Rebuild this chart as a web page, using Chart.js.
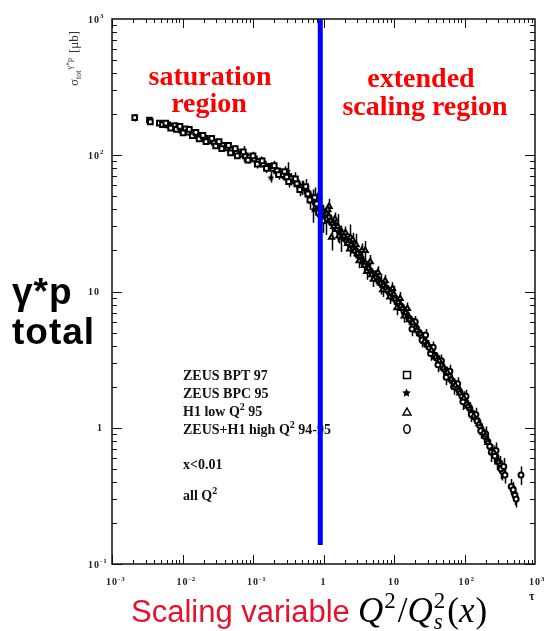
<!DOCTYPE html>
<html>
<head>
<meta charset="utf-8">
<script src="https://cdn.jsdelivr.net/npm/chart.js@4.4.1/dist/chart.umd.min.js"></script>
<style>
  html, body { margin: 0; padding: 0; background: #fff; }
  #wrap { width: 544px; height: 631px; }
</style>
</head>
<body>
<div id="wrap"><canvas id="chart" width="544" height="631"></canvas></div>
<script>
// values: [tau, sigma_tot (mub), error]
var zeusBpt97 = [
  [0.0021, 189, 12], [0.0034, 181, 10], [0.0035, 176, 8], [0.0047, 172, 4], [0.0052, 168, 4],
  [0.0062, 167, 4], [0.0069, 162, 4], [0.0078, 165, 5], [0.0088, 158, 4], [0.0098, 153, 4],
  [0.011, 156, 5], [0.012, 148, 4], [0.014, 146, 4], [0.016, 140, 4], [0.018, 137, 4],
  [0.021, 133, 4], [0.024, 128, 4], [0.028, 125, 5], [0.032, 120, 4], [0.037, 118, 6],
  [0.043, 113, 4], [0.05, 110, 5], [0.058, 106, 4], [0.067, 102, 5], [0.078, 99, 4],
  [0.09, 97, 5], [0.105, 94, 6], [0.12, 90, 5], [0.14, 86, 5], [0.165, 83, 5],
  [0.19, 80, 6], [0.22, 77, 5], [0.26, 72, 5], [0.3, 69, 6], [0.35, 67, 7],
  [0.42, 62, 6], [0.5, 58, 7], [0.6, 52, 8], [0.7, 47, 9], [0.8, 44, 9],
  [0.85, 38, 9], [0.92, 41, 10], [0.97, 33, 6],
  [0.0058, 172, 6], [0.0068, 158, 5], [0.0082, 155, 5], [0.0092, 163, 6], [0.0102, 146, 5],
  [0.0125, 155, 6], [0.0138, 139, 5], [0.0155, 147, 6], [0.0172, 132, 5], [0.0195, 140, 6],
  [0.0215, 126, 5], [0.026, 133, 6], [0.0295, 117, 5], [0.033, 126, 6], [0.036, 112, 5],
  [0.045, 118, 6], [0.048, 104, 5], [0.056, 112, 6], [0.06, 99, 5], [0.073, 106, 6],
  [0.085, 92, 5], [0.1, 99, 7], [0.115, 86, 6], [0.135, 91, 6], [0.155, 80, 6],
  [0.2, 84, 7], [0.23, 72, 6], [0.28, 76, 7], [0.32, 64, 6], [0.4, 67, 8],
  [0.46, 56, 6], [0.56, 59, 8], [0.64, 47, 7], [0.75, 49, 9]
];
var zeusBpc95 = [
  [0.0054, 168, 5], [0.0064, 165, 4], [0.0073, 161, 4], [0.0083, 160, 4], [0.0094, 156, 4],
  [0.0105, 151, 4], [0.0118, 151, 5], [0.013, 146, 4], [0.0145, 143, 4], [0.0162, 141, 5],
  [0.018, 136, 4], [0.02, 134, 4], [0.0225, 130, 5], [0.025, 127, 4], [0.0275, 127, 5],
  [0.03, 122, 4], [0.034, 119, 5], [0.038, 115, 4], [0.041, 116, 6], [0.046, 111, 4],
  [0.052, 109, 5], [0.055, 105, 4], [0.062, 105, 5], [0.07, 101, 4], [0.075, 103, 14],
  [0.082, 96, 5], [0.095, 95, 5], [0.11, 91, 5], [0.125, 88, 5], [0.13, 92, 6],
  [0.15, 85, 5], [0.18, 69, 6], [0.18, 82, 6], [0.21, 76, 5], [0.24, 75, 6],
  [0.27, 71, 5], [0.31, 77, 12], [0.33, 67, 6], [0.38, 64, 6], [0.44, 60, 6],
  [0.51, 60, 5], [0.55, 55, 6], [0.65, 49, 6], [0.72, 40, 8], [0.85, 43, 5], [0.95, 37, 6]
];
var h1LowQ95 = [
  [0.32, 70, 3], [0.38, 66, 3], [0.45, 61, 3], [0.52, 58, 3], [0.6, 54, 3],
  [0.68, 49, 3], [0.78, 45, 3], [0.88, 42, 3], [0.98, 39, 2.5], [1.1, 37, 2.5],
  [1.25, 33, 2.5], [1.3, 25, 5], [1.4, 30, 2], [1.55, 28.5, 2], [1.75, 26, 2],
  [1.8, 25, 5.5], [1.95, 25.5, 2], [2.2, 22.5, 2], [2.45, 22, 1.8], [2.75, 19.8, 1.8],
  [2.9, 22, 4.5], [3.05, 19, 1.5], [3.4, 17, 1.5], [3.8, 15.5, 1.4], [3.9, 20, 3.5],
  [4.3, 14.8, 1.3], [4.8, 13.3, 1.2], [5.5, 12.6, 1.1], [6.3, 11.8, 1], [6.5, 11.5, 2],
  [7.0, 11.1, 1], [8.0, 10.2, 0.9], [9.0, 9.8, 0.8], [10, 9.5, 1.5], [10.3, 8.8, 0.7],
  [11.5, 8.3, 0.7], [13, 7.5, 0.6], [14.5, 7.0, 0.6], [16.5, 6.2, 0.5], [18.5, 5.9, 0.5],
  [21, 5.2, 0.5], [23.5, 4.9, 0.4], [27, 4.3, 0.4], [30, 4.05, 0.35], [34, 3.7, 0.3],
  [39, 3.3, 0.3], [44, 3.1, 0.3], [50, 2.75, 0.25], [57, 2.55, 0.25], [65, 2.28, 0.2],
  [74, 2.05, 0.2], [86, 1.8, 0.2], [98, 1.65, 0.2], [112, 1.44, 0.15], [135, 1.22, 0.12],
  [160, 1.07, 0.12], [185, 0.92, 0.1], [215, 0.78, 0.09], [260, 0.66, 0.08], [300, 0.56, 0.08],
  [1.1, 34, 8], [1.2, 42, 6], [1.6, 30, 7], [2.4, 25, 6],
  [1.15, 40, 4], [1.45, 34, 4], [1.65, 25.5, 3], [2.05, 27, 3], [2.35, 20.5, 2.5],
  [2.6, 24, 3], [3.2, 16.8, 2], [3.5, 20, 2.5], [4.1, 14, 1.8], [4.6, 16.5, 2],
  [5.1, 12.3, 1.5], [5.9, 13.8, 1.5], [6.9, 10.3, 1.2], [7.5, 12, 1.3], [8.7, 9.1, 1],
  [9.5, 10.5, 1.2], [11, 7.6, 0.9], [12.2, 8.9, 1], [14, 6.6, 0.7], [15.5, 7.5, 0.8]
];
var zeusH1HighQ = [
  [1.05, 38, 3], [1.12, 35.5, 2.5], [1.2, 35, 3], [1.3, 32, 2.5], [1.38, 31.5, 3],
  [1.5, 29.5, 2.5], [1.6, 29, 2], [1.7, 27, 2], [1.85, 26.5, 2.5], [2.0, 24.5, 2],
  [2.15, 23.5, 2], [2.3, 23.2, 2], [2.5, 21.5, 2], [2.7, 20.5, 2], [2.9, 19.8, 2],
  [3.1, 18.5, 1.5], [3.35, 17.8, 1.5], [3.6, 16.7, 1.5], [3.9, 16, 1.5], [4.2, 15.2, 1.3],
  [4.5, 14.3, 1.2], [4.9, 13.6, 1.2], [5.3, 13.2, 1.1], [5.7, 12.4, 1], [6.1, 12.0, 1],
  [6.6, 11.5, 1], [7.2, 10.9, 1], [7.8, 10.6, 0.9], [8.4, 10.0, 0.8], [9.1, 9.6, 0.8],
  [9.9, 9.1, 0.7], [10.8, 8.6, 0.7], [11.7, 8.1, 0.6], [12.7, 7.8, 0.6], [13.8, 7.2, 0.6],
  [15, 6.8, 0.5], [16.3, 6.4, 0.5], [17.6, 6.1, 0.5], [19.1, 5.6, 0.4], [20.8, 5.4, 0.4],
  [22.6, 4.95, 0.4], [24.5, 4.8, 0.4], [26.6, 4.4, 0.35], [28.9, 4.15, 0.35], [31.4, 3.9, 0.3],
  [34.1, 3.6, 0.3], [37, 3.4, 0.3], [40.2, 3.25, 0.3], [43.6, 3.0, 0.25], [47.4, 2.85, 0.25],
  [51.5, 2.7, 0.25], [55.9, 2.5, 0.2], [60.7, 2.4, 0.2], [66, 2.22, 0.2], [71.6, 2.12, 0.2],
  [77.8, 1.96, 0.18], [84.5, 1.86, 0.18], [91.8, 1.72, 0.16], [99.7, 1.6, 0.15], [108, 1.48, 0.15],
  [118, 1.40, 0.14], [128, 1.28, 0.13], [139, 1.2, 0.12], [151, 1.12, 0.12], [164, 1.04, 0.11],
  [178, 0.94, 0.1], [193, 0.87, 0.1], [210, 0.80, 0.09], [228, 0.73, 0.09], [248, 0.68, 0.08],
  [269, 0.62, 0.08], [292, 0.57, 0.08], [318, 0.55, 0.07], [345, 0.48, 0.07], [375, 0.45, 0.06],
  [460, 0.37, 0.05], [490, 0.35, 0.05], [520, 0.32, 0.05], [540, 0.30, 0.04], [633, 0.45, 0.07],
  [18, 5.3, 0.6], [20, 6.0, 0.6], [25, 4.4, 0.5], [28, 4.8, 0.5], [33, 3.5, 0.4],
  [36, 3.9, 0.4], [42, 2.9, 0.35], [47, 3.1, 0.35], [55, 2.35, 0.3], [62, 2.6, 0.3],
  [70, 2.0, 0.25], [80, 2.1, 0.25], [95, 1.55, 0.2], [105, 1.7, 0.2], [125, 1.25, 0.15],
  [145, 1.25, 0.15], [170, 0.95, 0.12], [200, 0.9, 0.12], [240, 0.66, 0.1], [280, 0.68, 0.1],
  [330, 0.5, 0.08], [360, 0.52, 0.08]
];

var scalingLine = [[0.9, 1000], [0.9, 0.138]];

var xTickValues = [1e-3, 1e-2, 1e-1, 1, 10, 100, 1000];
var xTickLabels = ['10{-3}', '10{-2}', '10{-1}', '1', '10', '10{2}', '10{3}'];
var yTickValues = [0.1, 1, 10, 100, 1000];
var yTickLabels = ['10{-1}', '1', '10', '10{2}', '10{3}'];

var legendLabels = ['ZEUS BPT 97', 'ZEUS BPC 95', 'H1 low Q{2} 95', 'ZEUS+H1 high Q{2} 94-95'];
var cutLabels = ['x<0.01', 'all Q{2}'];

// small star marker
function makeStar(size) {
  var c = document.createElement('canvas');
  c.width = size; c.height = size;
  var g = c.getContext('2d');
  var r = size / 2, cx = r, cy = r + 0.5;
  g.beginPath();
  for (var i = 0; i < 10; i++) {
    var a = -Math.PI / 2 + i * Math.PI / 5;
    var rr = i % 2 ? r * 0.5 : r;
    g.lineTo(cx + rr * Math.cos(a), cy + rr * Math.sin(a));
  }
  g.closePath();
  g.fillStyle = '#000';
  g.fill();
  return c;
}
var starSmall = makeStar(7);
var starLegend = makeStar(9);

function pts(arr) {
  return arr.map(function (p) { return { x: p[0], y: p[1] }; });
}

// text with {superscript} parts
function rich(ctx, str, x, y, family, size, align) {
  var parts = str.split(/[{}]/);
  var widths = [], total = 0;
  for (var i = 0; i < parts.length; i++) {
    ctx.font = family.replace('SIZE', (i % 2 ? Math.round(size * 0.68) : size) + 'px');
    widths[i] = ctx.measureText(parts[i]).width;
    total += widths[i];
  }
  var cx = x;
  if (align === 'center') cx = x - total / 2;
  if (align === 'right') cx = x - total;
  if (align === 'first') cx = x - widths[0] / 2;
  if (align === 'firstRight') cx = x - widths[0];
  ctx.textAlign = 'left';
  for (i = 0; i < parts.length; i++) {
    ctx.font = family.replace('SIZE', (i % 2 ? Math.round(size * 0.68) : size) + 'px');
    ctx.fillText(parts[i], cx, i % 2 ? y - size * 0.45 : y);
    cx += widths[i];
  }
}

var series = [zeusBpt97, zeusBpc95, h1LowQ95, zeusH1HighQ];

var decorPlugin = {
  id: 'decor',
  beforeDatasetsDraw: function (chart) {
    var ctx = chart.ctx, ca = chart.chartArea;
    var xs = chart.scales.x, ys = chart.scales.y;
    ctx.save();

    // frame
    ctx.strokeStyle = '#111';
    ctx.lineWidth = 1.5;
    ctx.strokeRect(ca.left, ca.top, ca.right - ca.left, ca.bottom - ca.top);

    // inward ticks on all four sides
    ctx.lineWidth = 1;
    ctx.beginPath();
    for (var e = -3; e < 3; e++) {
      for (var m = 1; m <= 9; m++) {
        var px = Math.round(xs.getPixelForValue(m * Math.pow(10, e))) + 0.5;
        var len = m === 1 ? 9 : 4;
        ctx.moveTo(px, ca.bottom); ctx.lineTo(px, ca.bottom - len);
        ctx.moveTo(px, ca.top); ctx.lineTo(px, ca.top + len);
      }
    }
    for (e = -1; e < 3; e++) {
      for (m = 1; m <= 9; m++) {
        var py = Math.round(ys.getPixelForValue(m * Math.pow(10, e))) + 0.5;
        len = m === 1 ? 10 : 5;
        ctx.moveTo(ca.left, py); ctx.lineTo(ca.left + len, py);
        ctx.moveTo(ca.right, py); ctx.lineTo(ca.right - len, py);
      }
    }
    ctx.stroke();

    // tick labels
    ctx.fillStyle = '#222';
    ctx.letterSpacing = '1px';
    var tickFont = 'bold SIZE "Liberation Serif"';
    xTickValues.forEach(function (v, i) {
      rich(ctx, xTickLabels[i], xs.getPixelForValue(v), 585, tickFont, 10, 'first');
    });
    yTickValues.forEach(function (v, i) {
      var lbl = yTickLabels[i];
      rich(ctx, lbl, lbl === '1' ? 103 : 100, ys.getPixelForValue(v) + 3.5, tickFont, 10, 'firstRight');
    });
    ctx.letterSpacing = '0px';
    ctx.font = 'bold 12px "Liberation Serif"';
    ctx.fillText('\u03c4', 529, 600);

    // y axis title, rotated
    ctx.save();
    ctx.translate(78, 86);
    ctx.rotate(-Math.PI / 2);
    ctx.fillStyle = '#333';
    ctx.font = '13px "Liberation Serif"';
    ctx.fillText('\u03c3', 0, 0);
    var cx = ctx.measureText('\u03c3').width;
    ctx.font = '8px "Liberation Serif"';
    ctx.fillText('tot', cx, 3);
    cx += ctx.measureText('tot').width + 1;
    ctx.fillText('\u03b3*p', cx, -6);
    cx += ctx.measureText('\u03b3*p').width + 5;
    ctx.font = '13px "Liberation Serif"';
    ctx.fillText('[\u03bcb]', cx, 0);
    ctx.restore();

    // region annotations
    ctx.fillStyle = '#ff0000';
    ctx.textAlign = 'center';
    ctx.font = 'bold 28px "Liberation Serif"';
    ctx.fillText('saturation', 210, 85);
    ctx.fillText('region', 209, 112);
    ctx.fillText('extended', 421, 87);
    ctx.fillText('scaling region', 425, 115);

    // legend text and symbols
    ctx.fillStyle = '#111';
    var legFont = 'bold SIZE "Liberation Serif"';
    var legY = [380, 398, 416, 434];
    legendLabels.forEach(function (t, i) {
      rich(ctx, t, 183, legY[i], legFont, 14, 'left');
    });
    rich(ctx, cutLabels[0], 183, 469, legFont, 14, 'left');
    rich(ctx, cutLabels[1], 183, 500, legFont, 14, 'left');

    ctx.strokeStyle = '#000';
    ctx.lineWidth = 1.5;
    ctx.strokeRect(403.5, 371.5, 7, 7);
    ctx.drawImage(starLegend, 402, 388);
    ctx.beginPath();
    ctx.moveTo(407, 408); ctx.lineTo(411, 415); ctx.lineTo(403, 415); ctx.closePath();
    ctx.stroke();
    ctx.beginPath();
    ctx.ellipse(407, 429, 3.2, 4.2, 0, 0, Math.PI * 2);
    ctx.stroke();

    // big left label
    ctx.fillStyle = '#000';
    ctx.textAlign = 'left';
    ctx.letterSpacing = '1px';
    ctx.font = 'bold 37px "Liberation Sans"';
    ctx.fillText('\u03b3*p', 12, 304);
    ctx.fillText('total', 12, 344);
    ctx.letterSpacing = '0px';

    // bottom axis caption
    ctx.fillStyle = '#e8112d';
    ctx.font = '31px "Liberation Sans"';
    ctx.fillText('Scaling variable', 131, 622);
    ctx.fillStyle = '#000';
    var mx = 358, base = 622;
    ctx.font = 'italic 35px "Liberation Serif"';
    ctx.fillText('Q', mx, base); mx += ctx.measureText('Q').width + 1;
    ctx.font = '23px "Liberation Serif"';
    ctx.fillText('2', mx, base - 14); mx += ctx.measureText('2').width + 2;
    ctx.font = '35px "Liberation Serif"';
    ctx.fillText('/', mx, base); mx += ctx.measureText('/').width;
    ctx.font = 'italic 35px "Liberation Serif"';
    ctx.fillText('Q', mx, base); mx += ctx.measureText('Q').width + 1;
    ctx.font = '23px "Liberation Serif"';
    ctx.fillText('2', mx, base - 14);
    ctx.font = 'italic 23px "Liberation Serif"';
    ctx.fillText('s', mx, base + 7); mx += ctx.measureText('2').width + 2;
    ctx.font = '35px "Liberation Serif"';
    ctx.fillText('(', mx, base); mx += ctx.measureText('(').width;
    ctx.font = 'italic 35px "Liberation Serif"';
    ctx.fillText('x', mx, base); mx += ctx.measureText('x').width + 1;
    ctx.font = '35px "Liberation Serif"';
    ctx.fillText(')', mx, base);

    // error bars
    ctx.strokeStyle = '#000';
    ctx.lineWidth = 1.5;
    ctx.beginPath();
    series.forEach(function (arr) {
      arr.forEach(function (p) {
        var x = Math.round(xs.getPixelForValue(p[0])) + 0.5;
        var lo = Math.max(p[1] - p[2], 0.01);
        ctx.moveTo(x, ys.getPixelForValue(p[1] + p[2]));
        ctx.lineTo(x, ys.getPixelForValue(lo));
      });
    });
    ctx.stroke();

    ctx.restore();
  }
};

var marker = { backgroundColor: '#fff', borderColor: '#000', borderWidth: 2 };

new Chart(document.getElementById('chart').getContext('2d'), {
  type: 'scatter',
  data: {
    datasets: [{
      label: 'tau = Q^2/Qs^2 ~ 1',
      data: pts(scalingLine),
      showLine: true,
      borderColor: '#0000ff',
      borderWidth: 5,
      pointRadius: 0
    }, Object.assign({
      label: 'ZEUS BPT 97', data: pts(zeusBpt97), pointStyle: 'rect', pointRadius: 3.3
    }, marker), {
      label: 'ZEUS BPC 95', data: pts(zeusBpc95), pointStyle: starSmall, pointRadius: 3.5
    }, Object.assign({
      label: 'H1 low Q2 95', data: pts(h1LowQ95), pointStyle: 'triangle', pointRadius: 3
    }, marker), Object.assign({
      label: 'ZEUS+H1 high Q2 94-95', data: pts(zeusH1HighQ), pointStyle: 'circle', pointRadius: 2.5
    }, marker)]
  },
  options: {
    responsive: false,
    animation: false,
    devicePixelRatio: 1,
    layout: { padding: { left: 112, right: 9, top: 19, bottom: 67 } },
    plugins: {
      legend: { display: false },
      tooltip: { enabled: false }
    },
    scales: {
      x: { type: 'logarithmic', min: 1e-3, max: 1e3, display: false },
      y: { type: 'logarithmic', min: 0.1, max: 1000, display: false }
    }
  },
  plugins: [decorPlugin]
});
</script>
</body>
</html>
